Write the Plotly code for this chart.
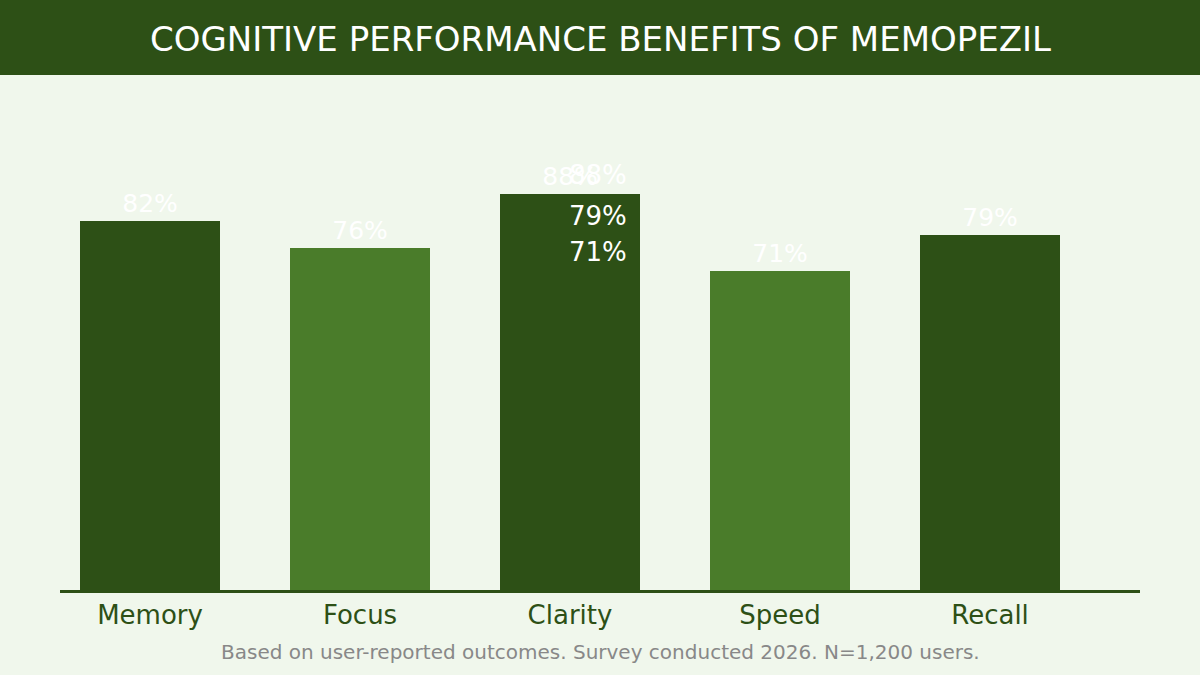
import plotly.graph_objects as go

categories = ["Memory", "Focus", "Clarity", "Speed", "Recall"]
values = [82, 76, 88, 71, 79]
bar_colors = ["#2d5016", "#4a7c2a", "#2d5016", "#4a7c2a", "#2d5016"]
extra_labels = ["88%", "79%", "71%"]
extra_label_y = [0.922, 0.831, 0.751]

title_text = "COGNITIVE PERFORMANCE BENEFITS OF MEMOPEZIL"
footnote = "Based on user-reported outcomes. Survey conducted 2026. N=1,200 users."

W, H = 1200, 675
ml, mr, mt, mb = 60, 60, 140, 85
ph = H - mt - mb

fig = go.Figure()
fig.add_trace(go.Bar(
    x=categories,
    y=values,
    marker=dict(color=bar_colors, line=dict(width=0)),
    width=0.667,
    text=[f"{v}%" for v in values],
    textposition="outside",
    outsidetextfont=dict(color="white", size=25, family="DejaVu Sans"),
    cliponaxis=False,
    hoverinfo="skip",
))

annotations = []
for t, yy in zip(extra_labels, extra_label_y):
    annotations.append(dict(
        text=t, xref="paper", yref="paper", x=(629 - ml) / (W - ml - mr), y=yy,
        xanchor="right", yanchor="middle", showarrow=False,
        font=dict(color="white", size=26, family="DejaVu Sans"),
    ))
annotations.append(dict(
    text=title_text, xref="paper", yref="paper", x=0.5, y=1 + (mt - 39) / ph,
    xanchor="center", yanchor="middle", showarrow=False,
    font=dict(color="white", size=34, family="DejaVu Sans"),
))
annotations.append(dict(
    text=footnote, xref="paper", yref="paper", x=0.5, y=-(652 - (H - mb)) / ph,
    xanchor="center", yanchor="middle", showarrow=False,
    font=dict(color="#888888", size=20, family="DejaVu Sans"),
))

fig.update_layout(
    width=W, height=H,
    margin=dict(l=ml, r=mr, t=mt, b=mb, pad=0),
    paper_bgcolor="#f0f7ec",
    plot_bgcolor="#f0f7ec",
    showlegend=False,
    bargap=0,
    xaxis=dict(
        range=[-0.4286, 4.714],
        showgrid=False, zeroline=False,
        showline=True, linecolor="#2d5016", linewidth=3,
        ticks="", tickfont=dict(color="#2d5016", size=26, family="DejaVu Sans"),
    ),
    yaxis=dict(range=[0, 100], visible=False, fixedrange=True),
    shapes=[dict(
        type="rect", xref="paper", yref="paper",
        x0=-ml / (W - ml - mr), x1=1 + mr / (W - ml - mr),
        y0=1 + (mt - 75) / ph, y1=1 + mt / ph,
        fillcolor="#2d5016", line=dict(width=0), layer="below",
    )],
    annotations=annotations,
)

fig.write_html(
    "out.html",
    config={"displayModeBar": False, "staticPlot": True},
    post_script="document.body.style.margin='0';document.body.style.overflow='hidden';",
)
